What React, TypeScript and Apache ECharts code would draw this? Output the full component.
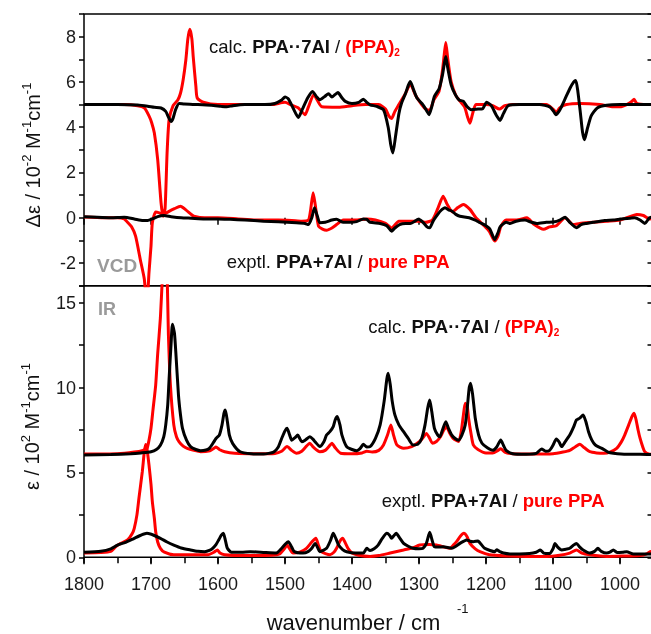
import React, { useEffect, useRef } from 'react';
import * as echarts from 'echarts';

type P = [number, number];

// wavenumber (cm-1), value pairs
const vcdCalcComplex: P[] = [[1800,5.0],[1750,5.0],[1720,4.98],[1705,4.93],[1695,4.88],[1685,4.85],[1678,4.7],[1674,4.45],[1670,4.25],[1667,4.4],[1663,4.8],[1658,5.05],[1650,5.02],[1630,5.0],[1610,4.97],[1595,4.92],[1587,4.9],[1578,4.95],[1560,5.0],[1530,5.0],[1515,5.05],[1505,5.2],[1500,5.33],[1495,5.25],[1488,4.85],[1480,4.43],[1474,4.8],[1466,5.3],[1459,5.58],[1453,5.35],[1448,5.21],[1441,5.35],[1435,5.48],[1430,5.33],[1425,5.45],[1421,5.53],[1415,5.3],[1410,5.14],[1400,5.05],[1390,5.1],[1383,5.24],[1378,5.1],[1373,4.99],[1363,4.92],[1353,4.77],[1346,4.0],[1342,3.2],[1339,2.86],[1335,3.6],[1330,4.6],[1326,5.07],[1320,5.5],[1316,5.85],[1313,6.02],[1308,5.65],[1303,5.29],[1294,4.99],[1288,4.7],[1285,4.55],[1281,4.9],[1277,5.36],[1270,5.7],[1265,6.3],[1262,6.85],[1260,7.12],[1257,6.6],[1252,5.87],[1246,5.45],[1240,5.2],[1234,5.15],[1228,4.9],[1222,4.77],[1212,4.8],[1205,4.82],[1199,5.1],[1192,4.95],[1185,4.55],[1179,4.3],[1174,4.6],[1167,4.95],[1150,5.0],[1120,5.0],[1105,4.9],[1099,4.7],[1096,4.55],[1090,4.75],[1082,5.25],[1075,5.7],[1069,6.0],[1066,6.06],[1063,5.6],[1059,4.6],[1056,3.8],[1053,3.45],[1049,3.9],[1043,4.5],[1034,4.85],[1020,4.97],[1000,5.0],[950,5.0]];
const vcdCalcDimer: P[] = [[1800,5.0],[1740,5.0],[1720,4.95],[1710,4.85],[1703,4.5],[1699,4.2],[1695,3.74],[1690,2.57],[1685,0.66],[1682,0.07],[1679,0.4],[1676,2.86],[1673,4.33],[1667,4.95],[1660,5.2],[1656,5.5],[1652,6.1],[1648,6.97],[1645,7.9],[1642,8.33],[1639,7.9],[1637,7.12],[1633,5.8],[1631,5.29],[1622,5.1],[1600,5.0],[1560,5.0],[1520,5.0],[1500,5.1],[1492,5.0],[1480,4.85],[1470,4.55],[1465,4.9],[1457,5.45],[1452,5.2],[1445,4.9],[1420,4.88],[1400,4.95],[1380,5.0],[1360,5.0],[1350,4.8],[1345,4.5],[1341,4.38],[1336,4.7],[1330,5.0],[1320,5.5],[1313,5.9],[1305,5.4],[1296,5.0],[1290,4.8],[1284,4.75],[1278,5.2],[1270,5.6],[1265,6.5],[1262,7.3],[1260,7.74],[1257,7.0],[1252,6.0],[1245,5.4],[1240,5.2],[1232,4.9],[1228,4.5],[1224,4.18],[1220,4.6],[1215,5.0],[1200,5.0],[1190,4.95],[1180,4.8],[1172,4.95],[1160,5.0],[1110,5.0],[1100,4.8],[1095,4.65],[1090,4.85],[1080,5.0],[1060,5.05],[1030,5.0],[1010,4.9],[1000,4.9],[990,5.0],[982,5.15],[979,5.24],[975,5.05],[960,5.0],[950,5.0]];
const vcdExptComplex: P[] = [[1800,0.05],[1780,0.02],[1760,0.0],[1740,0.02],[1725,-0.05],[1712,-0.12],[1705,-0.12],[1698,-0.05],[1690,0.05],[1681,0.1],[1670,0.05],[1655,0.0],[1640,-0.02],[1620,-0.05],[1600,-0.05],[1582,-0.07],[1560,-0.1],[1532,-0.15],[1510,-0.18],[1483,-0.22],[1470,-0.25],[1465,-0.3],[1460,0.0],[1456,0.44],[1452,0.1],[1448,-0.22],[1440,-0.2],[1430,-0.1],[1423,-0.07],[1413,-0.2],[1403,-0.2],[1393,-0.17],[1383,-0.05],[1378,-0.07],[1373,-0.2],[1358,-0.25],[1348,-0.35],[1341,-0.59],[1336,-0.45],[1329,-0.3],[1320,-0.25],[1313,-0.25],[1306,-0.15],[1301,-0.07],[1294,-0.2],[1288,-0.4],[1284,-0.44],[1279,-0.15],[1274,0.07],[1268,0.3],[1261,0.44],[1256,0.35],[1251,0.3],[1245,0.15],[1239,0.07],[1225,0.0],[1215,-0.12],[1209,-0.22],[1200,-0.35],[1194,-0.51],[1187,-0.96],[1182,-0.65],[1179,-0.4],[1170,-0.2],[1164,-0.25],[1155,-0.15],[1142,-0.1],[1132,-0.2],[1124,-0.25],[1110,-0.2],[1098,-0.18],[1090,-0.1],[1082,0.02],[1075,-0.2],[1065,-0.44],[1058,-0.3],[1050,-0.25],[1040,-0.2],[1023,-0.12],[1010,-0.1],[998,-0.05],[985,-0.02],[978,0.0],[970,-0.1],[963,-0.25],[956,0.0],[950,0.05]];
const vcdExptPure: P[] = [[1800,0.03],[1770,0.0],[1750,0.0],[1740,-0.05],[1735,-0.2],[1729,-0.4],[1723,-0.81],[1716,-1.84],[1710,-2.7],[1707,-3.6],[1705,-3.4],[1703,-2.42],[1700,-1.25],[1698,-0.22],[1693,0.25],[1686,0.2],[1681,0.15],[1675,0.25],[1665,0.4],[1656,0.51],[1648,0.35],[1640,0.15],[1636,0.07],[1620,0.0],[1600,0.0],[1570,-0.05],[1540,-0.1],[1510,-0.1],[1490,-0.12],[1475,-0.15],[1465,-0.1],[1462,0.3],[1458,1.1],[1455,0.6],[1450,-0.37],[1444,-0.5],[1438,-0.55],[1430,-0.45],[1423,-0.3],[1413,-0.1],[1395,-0.1],[1378,-0.05],[1365,-0.1],[1350,-0.25],[1341,-0.45],[1330,-0.15],[1320,-0.15],[1300,-0.15],[1290,-0.2],[1280,-0.1],[1272,0.4],[1264,0.95],[1258,0.6],[1250,0.26],[1242,0.45],[1234,0.59],[1224,0.37],[1215,0.0],[1202,-0.37],[1195,-0.6],[1187,-1.03],[1182,-0.8],[1178,-0.4],[1170,-0.1],[1155,-0.1],[1139,0.0],[1128,-0.3],[1114,-0.51],[1105,-0.4],[1095,-0.35],[1082,0.0],[1070,-0.3],[1060,-0.25],[1040,-0.2],[1020,-0.15],[1000,-0.1],[990,0.0],[975,0.15],[965,0.1],[956,-0.05],[950,0.0]];

const irCalcComplex: P[] = [[1800,6.02],[1760,6.05],[1730,6.1],[1715,6.15],[1700,6.22],[1692,6.35],[1686,6.6],[1681,7.1],[1678,7.8],[1675,9.0],[1673,10.5],[1670,12.6],[1668,13.73],[1665,13.2],[1663,12.1],[1659,9.56],[1656,8.4],[1653,7.6],[1647,6.9],[1641,6.52],[1633,6.35],[1626,6.28],[1618,6.32],[1613,6.42],[1607,6.75],[1603,7.0],[1598,7.2],[1594,7.8],[1591,8.5],[1589,8.68],[1586,8.0],[1583,7.2],[1578,6.7],[1567,6.22],[1550,6.1],[1532,6.08],[1517,6.2],[1510,6.5],[1505,7.0],[1500,7.45],[1497,7.6],[1493,7.2],[1490,6.9],[1485,7.05],[1481,7.2],[1478,7.0],[1475,6.8],[1470,6.9],[1463,7.1],[1458,6.95],[1455,6.8],[1448,6.52],[1442,6.8],[1438,7.2],[1433,7.4],[1428,7.7],[1425,8.1],[1422,8.29],[1418,7.8],[1415,7.2],[1408,6.52],[1400,6.35],[1393,6.28],[1388,6.4],[1383,6.66],[1378,6.5],[1373,6.52],[1365,7.0],[1358,7.8],[1352,9.2],[1348,10.5],[1346,10.84],[1343,10.2],[1340,9.2],[1336,8.39],[1330,7.8],[1323,7.4],[1316,7.0],[1309,6.62],[1302,6.65],[1296,7.0],[1291,7.8],[1287,8.8],[1284,9.27],[1281,8.6],[1277,7.6],[1272,7.2],[1269,7.1],[1265,7.5],[1260,7.99],[1256,7.6],[1251,7.2],[1246,7.0],[1241,6.9],[1236,7.2],[1231,7.8],[1228,8.8],[1225,10.0],[1223,10.25],[1220,9.6],[1216,8.19],[1211,7.2],[1206,6.72],[1198,6.45],[1190,6.3],[1184,6.5],[1178,6.91],[1174,6.6],[1170,6.3],[1160,6.1],[1140,6.07],[1125,6.12],[1117,6.38],[1111,6.25],[1105,6.3],[1100,6.6],[1095,6.97],[1091,6.8],[1087,6.52],[1082,6.8],[1075,7.2],[1069,7.7],[1065,8.09],[1060,8.2],[1055,8.39],[1051,8.0],[1047,7.4],[1042,6.9],[1037,6.62],[1032,6.5],[1027,6.42],[1018,6.2],[1010,6.13],[990,6.07],[970,6.07],[950,6.05]];
const irCalcDimer: P[] = [[1800,6.08],[1750,6.1],[1725,6.2],[1712,6.3],[1706,6.42],[1703,6.9],[1700,7.6],[1697,8.7],[1693,10.15],[1690,12.0],[1686,14.1],[1683,16.5],[1680,18.5],[1677,18.0],[1675,15.0],[1674,13.1],[1671,10.15],[1666,7.8],[1662,7.1],[1658,6.8],[1652,6.55],[1646,6.42],[1636,6.3],[1626,6.22],[1612,6.28],[1606,6.42],[1603,6.5],[1598,6.35],[1590,6.22],[1575,6.13],[1540,6.1],[1515,6.12],[1505,6.25],[1497,6.52],[1490,6.3],[1483,6.13],[1475,6.25],[1468,6.55],[1463,6.72],[1458,6.5],[1448,6.22],[1440,6.3],[1434,6.55],[1430,6.72],[1425,6.45],[1417,6.13],[1400,6.1],[1385,6.15],[1378,6.25],[1370,6.2],[1360,6.3],[1353,6.62],[1347,7.2],[1342,7.8],[1338,7.2],[1333,6.62],[1323,6.42],[1311,6.52],[1299,6.82],[1293,7.1],[1289,7.3],[1284,7.0],[1280,6.72],[1274,6.82],[1268,7.1],[1263,7.5],[1259,7.7],[1254,7.3],[1249,7.0],[1241,6.82],[1237,7.4],[1234,8.3],[1231,9.07],[1228,8.9],[1226,8.2],[1222,7.2],[1219,6.62],[1212,6.35],[1200,6.15],[1190,6.15],[1182,6.3],[1178,6.4],[1172,6.2],[1160,6.1],[1130,6.08],[1100,6.1],[1085,6.2],[1075,6.3],[1067,6.5],[1060,6.66],[1053,6.45],[1045,6.22],[1035,6.15],[1024,6.13],[1015,6.2],[1005,6.42],[998,6.8],[993,7.2],[987,7.8],[982,8.3],[979,8.49],[976,8.1],[973,7.5],[970,7.0],[966,6.5],[963,6.22],[956,6.08],[950,6.07]];
const irExptComplex: P[] = [[1800,0.3],[1775,0.36],[1760,0.5],[1750,0.72],[1737,0.9],[1725,1.12],[1715,1.3],[1706,1.41],[1696,1.3],[1686,1.12],[1676,0.9],[1666,0.72],[1655,0.55],[1641,0.43],[1630,0.35],[1620,0.33],[1612,0.42],[1608,0.53],[1603,0.75],[1599,1.02],[1595,1.3],[1592,1.41],[1589,1.0],[1586,0.53],[1580,0.3],[1565,0.3],[1552,0.33],[1530,0.28],[1513,0.25],[1505,0.53],[1499,0.8],[1495,0.92],[1490,0.6],[1486,0.33],[1473,0.25],[1465,0.35],[1460,0.53],[1455,0.82],[1451,0.55],[1448,0.33],[1438,0.53],[1432,1.0],[1428,1.41],[1424,1.1],[1420,0.72],[1414,0.45],[1408,0.33],[1395,0.25],[1383,0.25],[1378,0.53],[1373,0.4],[1367,0.5],[1361,0.72],[1355,1.1],[1348,1.41],[1344,1.3],[1341,1.12],[1337,1.3],[1334,1.41],[1329,1.15],[1323,0.82],[1316,0.65],[1309,0.53],[1300,0.5],[1294,0.53],[1289,0.82],[1284,1.47],[1280,0.95],[1277,0.62],[1270,0.6],[1264,0.62],[1251,0.53],[1245,0.65],[1239,0.82],[1233,0.95],[1229,1.02],[1224,0.95],[1219,0.92],[1212,0.96],[1207,0.75],[1202,0.53],[1194,0.4],[1187,0.33],[1184,0.45],[1180,0.35],[1174,0.25],[1164,0.2],[1150,0.2],[1135,0.22],[1125,0.3],[1119,0.43],[1114,0.25],[1105,0.22],[1100,0.5],[1097,0.82],[1093,0.6],[1087,0.43],[1080,0.48],[1075,0.53],[1070,0.7],[1065,0.82],[1060,0.6],[1055,0.43],[1045,0.25],[1038,0.35],[1033,0.53],[1028,0.35],[1020,0.25],[1015,0.3],[1010,0.43],[1004,0.28],[996,0.3],[990,0.33],[980,0.2],[965,0.2],[950,0.2]];
const irExptPure: P[] = [[1800,0.25],[1775,0.28],[1760,0.35],[1752,0.65],[1745,0.82],[1735,1.02],[1728,1.4],[1725,1.71],[1721,2.5],[1718,3.48],[1713,5.04],[1710,6.2],[1708,6.65],[1706,6.4],[1703,5.44],[1700,4.3],[1698,3.28],[1695,2.3],[1693,1.51],[1690,0.9],[1686,0.53],[1680,0.3],[1666,0.15],[1640,0.15],[1615,0.15],[1606,0.3],[1601,0.43],[1597,0.25],[1590,0.15],[1560,0.1],[1520,0.12],[1508,0.2],[1501,0.5],[1497,0.72],[1493,0.5],[1488,0.25],[1478,0.3],[1468,0.53],[1460,0.9],[1454,1.12],[1450,0.7],[1446,0.33],[1433,0.15],[1427,0.3],[1423,0.53],[1418,0.95],[1414,1.12],[1410,0.85],[1406,0.53],[1400,0.25],[1390,0.12],[1373,0.05],[1360,0.1],[1343,0.25],[1323,0.43],[1310,0.55],[1299,0.72],[1285,0.75],[1274,0.72],[1262,0.6],[1254,0.53],[1248,0.75],[1244,0.92],[1238,1.25],[1233,1.41],[1228,1.2],[1224,0.82],[1216,0.5],[1209,0.33],[1195,0.15],[1170,0.08],[1140,0.05],[1110,0.05],[1090,0.12],[1075,0.25],[1065,0.43],[1057,0.25],[1045,0.15],[1020,0.05],[990,0.08],[970,0.1],[960,0.2],[955,0.33],[950,0.35]];

const X_MIN = 950;
const X_MAX = 1800;
const VCD_MIN = -3;
const VCD_MAX = 9;
const IR_MIN = 0;
const IR_MAX = 16;

const FONT = '"Liberation Sans", Arial, Helvetica, sans-serif';
const RED = '#ff0000';
const INK = '#111111';
const GREY = '#9a9a9a';

export default function App() {
  const ref = useRef<HTMLDivElement>(null);
  useEffect(() => {
    const chart = echarts.init(ref.current!, null, { renderer: 'svg' });
    const gridL = 84;
    const gridW = 569.5;
    const tickStyle = { lineStyle: { color: '#000', width: 1.5 } };
    const lbl = { fontSize: 18, fontFamily: FONT, color: '#1a1a1a' };

    const mkLine = (data: P[], color: string, xi: number, yi: number, z: number) => ({
      type: 'line', data, xAxisIndex: xi, yAxisIndex: yi, symbol: 'none', smooth: 0.2,
      lineStyle: { color, width: 3 }, z, silent: true, clip: true,
    });

    const annRich = {
      n: { fontSize: 18.5, fontFamily: FONT, fill: INK, lineHeight: 22 },
      b: { fontSize: 18.5, fontFamily: FONT, fontWeight: 'bold', fill: INK, lineHeight: 22 },
      r: { fontSize: 18.5, fontFamily: FONT, fontWeight: 'bold', fill: RED, lineHeight: 22 },
      s: { fontSize: 10, fontFamily: FONT, fontWeight: 'bold', fill: RED, lineHeight: 14, verticalAlign: 'bottom' },
    };
    const calcText = '{n|calc. }{b|PPA\u00b7\u00b77AI}{n| / }{r|(PPA)}{s|2}';
    const exptText = '{n|exptl. }{b|PPA+7AI}{n| / }{r|pure PPA}';
    const ann = (text: string, x: number, y: number) => ({
      type: 'text', x, y, silent: true,
      style: { text, rich: annRich, textAlign: 'left', textVerticalAlign: 'middle', fontFamily: FONT, fontSize: 18.5 },
    });
    const yRich = {
      n: { fontSize: 20, fontFamily: FONT, fill: INK, lineHeight: 26 },
      p: { fontSize: 13, fontFamily: FONT, fill: INK, lineHeight: 13, verticalAlign: 'top' },
    };

    chart.setOption({
      animation: false,
      textStyle: { fontFamily: FONT },
      grid: [
        { left: gridL, top: 14, width: gridW, height: 271.7, show: true, borderColor: '#000', borderWidth: 1.5, backgroundColor: 'transparent' },
        { left: gridL, top: 285.7, width: gridW, height: 271.6, show: true, borderColor: '#000', borderWidth: 1.5, backgroundColor: 'transparent' },
      ],
      xAxis: [
        { gridIndex: 0, type: 'value', min: X_MIN, max: X_MAX, splitNumber: 8, inverse: true, position: 'top',
          axisLine: { show: false }, axisTick: { inside: true, length: 7, ...tickStyle }, axisLabel: { show: false }, splitLine: { show: false } },
        { gridIndex: 1, type: 'value', min: X_MIN, max: X_MAX, interval: 50, inverse: true, position: 'bottom',
          axisLine: { show: false }, axisTick: { inside: false, length: 6, ...tickStyle },
          axisLabel: { ...lbl, margin: 18, formatter: (v: number) => (v % 100 === 0 && v >= 1000 ? String(v) : '') },
          splitLine: { show: false } },
        { gridIndex: 1, type: 'value', min: X_MIN, max: X_MAX, splitNumber: 8, inverse: true, position: 'top',
          axisLine: { show: false }, axisTick: { inside: true, length: 7, ...tickStyle }, axisLabel: { show: false }, splitLine: { show: false } },
      ],
      yAxis: [
        { gridIndex: 0, type: 'value', min: VCD_MIN, max: VCD_MAX, interval: 1, position: 'left',
          axisLine: { show: false }, axisTick: { inside: false, length: 5, ...tickStyle },
          axisLabel: { ...lbl, margin: 8, formatter: (v: number) => (v % 2 === 0 ? String(v) : '') }, splitLine: { show: false } },
        { gridIndex: 0, type: 'value', min: VCD_MIN, max: VCD_MAX, interval: 1, position: 'right',
          axisLine: { show: false }, axisTick: { inside: true, length: 6, ...tickStyle }, axisLabel: { show: false }, splitLine: { show: false } },
        { gridIndex: 1, type: 'value', min: IR_MIN, max: IR_MAX, interval: 2.5, position: 'left',
          axisLine: { show: false }, axisTick: { inside: false, length: 5, ...tickStyle },
          axisLabel: { ...lbl, margin: 8, formatter: (v: number) => (v % 5 === 0 && v < 16 ? String(v) : '') }, splitLine: { show: false } },
        { gridIndex: 1, type: 'value', min: IR_MIN, max: IR_MAX, interval: 2.5, position: 'right',
          axisLine: { show: false }, axisTick: { inside: true, length: 6, ...tickStyle }, axisLabel: { show: false }, splitLine: { show: false } },
      ],
      series: [
        mkLine(vcdCalcDimer, RED, 0, 0, 2),
        mkLine(vcdExptPure, RED, 0, 0, 2),
        mkLine(vcdExptComplex, '#000', 0, 0, 3),
        mkLine(vcdCalcComplex, '#000', 0, 0, 3),
        mkLine(irCalcDimer, RED, 1, 2, 2),
        mkLine(irExptPure, RED, 1, 2, 2),
        mkLine(irExptComplex, '#000', 1, 2, 3),
        mkLine(irCalcComplex, '#000', 1, 2, 3),
      ],
      graphic: [
        ann(calcText, 209, 46.9),
        ann(exptText, 226.7, 261.9),
        ann(calcText, 368.3, 326.9),
        ann(exptText, 381.7, 500.6),
        { type: 'text', x: 97, y: 265.4, silent: true,
          style: { text: 'VCD', fill: GREY, fontFamily: FONT, fontSize: 19, fontWeight: 'bold', textAlign: 'left', textVerticalAlign: 'middle' } },
        { type: 'text', x: 98, y: 308.8, silent: true,
          style: { text: 'IR', fill: GREY, fontFamily: FONT, fontSize: 18, fontWeight: 'bold', textAlign: 'left', textVerticalAlign: 'middle' } },
        { type: 'text', x: 32.6, y: 155, rotation: Math.PI / 2, silent: true,
          style: { text: '{n|\u0394\u03b5 / 10}{p|-2}{n| M}{p|-1}{n|cm}{p|-1}', rich: yRich, textAlign: 'center', textVerticalAlign: 'middle', fontFamily: FONT, fontSize: 20 } },
        { type: 'text', x: 31.6, y: 426.5, rotation: Math.PI / 2, silent: true,
          style: { text: '{n|\u03b5 / 10}{p|2}{n| M}{p|-1}{n|cm}{p|-1}', rich: yRich, textAlign: 'center', textVerticalAlign: 'middle', fontFamily: FONT, fontSize: 20 } },
        { type: 'text', x: 266.7, y: 622.4, silent: true,
          style: { text: 'wavenumber / cm', fill: INK, fontFamily: FONT, fontSize: 22, textAlign: 'left', textVerticalAlign: 'middle' } },
        { type: 'text', x: 457, y: 608.5, silent: true,
          style: { text: '-1', fill: INK, fontFamily: FONT, fontSize: 13, textAlign: 'left', textVerticalAlign: 'middle' } },
      ],
    });
    return () => chart.dispose();
  }, []);

  return (
    <div style={{ position: 'fixed', left: 0, top: 0, width: 651, height: 634, overflow: 'hidden' }}>
      <div ref={ref} style={{ width: 664, height: 634 }} />
    </div>
  );
}
